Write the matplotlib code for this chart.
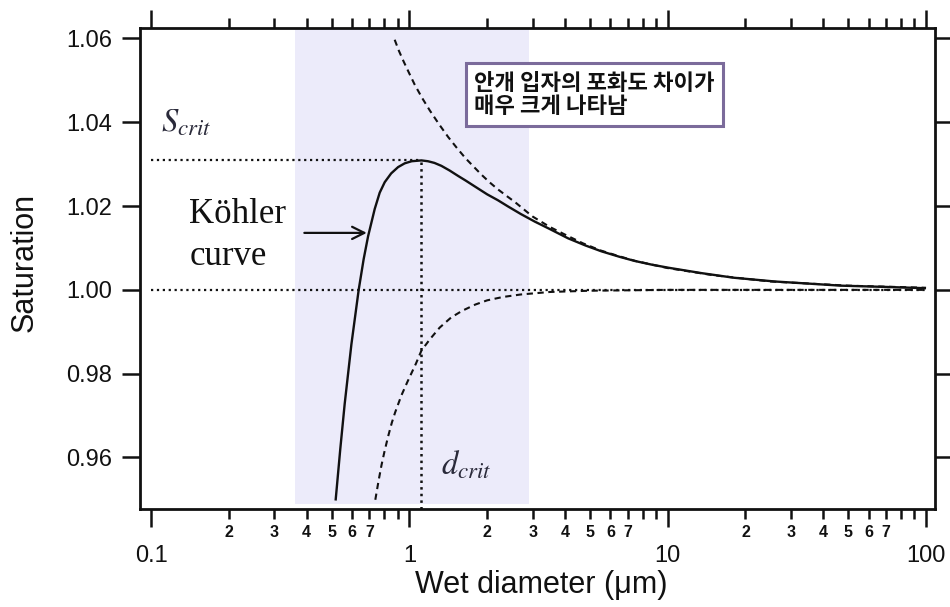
import matplotlib
matplotlib.use('Agg')
import matplotlib.pyplot as plt
from matplotlib.ticker import FixedLocator, FuncFormatter, NullLocator

plt.rcParams['font.family'] = ['Liberation Sans', 'DejaVu Sans']
plt.rcParams['mathtext.fontset'] = 'stix'

# ---- data ----
kohler_d = [0.5185, 0.540, 0.5617, 0.5963, 0.6363, 0.665, 0.692, 0.734, 0.7675, 0.8025,
            0.85, 0.904, 0.959, 1.02, 1.113, 1.18, 1.25, 1.33, 1.43, 1.543, 1.65, 1.79,
            2.0, 2.2, 2.41, 2.7, 3.056, 3.5, 4.115, 4.8, 5.538, 6.5, 7.455, 8.7, 10.03,
            13.5, 18.0, 25.96, 35.0, 47.0, 70.0, 98.9]
kohler_s = [0.9500, 0.9620, 0.9728, 0.9870, 1.0000, 1.0073, 1.0128, 1.0193, 1.0232, 1.0257,
            1.0278, 1.0293, 1.0302, 1.0307, 1.0309, 1.0307, 1.0303, 1.0296, 1.0285, 1.0272,
            1.0261, 1.0247, 1.0228, 1.0214, 1.0199, 1.0181, 1.0163, 1.0145, 1.0123, 1.0106,
            1.0092, 1.0079, 1.0069, 1.0060, 1.0053, 1.0040, 1.0029, 1.0020, 1.0015, 1.0010,
            1.0007, 1.0004]

kelvin_d = [0.877, 0.91, 0.95, 1.0, 1.048, 1.12, 1.2, 1.3, 1.412, 1.53, 1.65, 1.78, 1.90,
            2.05, 2.2, 2.38, 2.557, 2.8, 3.0, 3.5, 4.0, 4.7, 5.5, 6.5, 7.5, 10.0, 15.0,
            25.0, 50.0, 100.0]
kelvin_s = [1.0597, 1.0571, 1.0545, 1.0516, 1.0490, 1.0458, 1.0428, 1.0396, 1.0365, 1.0338,
            1.0314, 1.0293, 1.0275, 1.0256, 1.0240, 1.0224, 1.0210, 1.0190, 1.0175, 1.0150,
            1.0132, 1.0111, 1.0094, 1.0080, 1.0069, 1.0052, 1.0035, 1.0020, 1.0010, 1.0005]

solute_d = [0.738, 0.76, 0.78, 0.80, 0.827, 0.855, 0.88, 0.931, 0.98, 1.02, 1.06, 1.113,
            1.2, 1.31, 1.45, 1.6, 1.8, 2.0, 2.3, 2.7, 3.5, 5.0, 10.0, 100.0]
solute_s = [0.9499, 0.9545, 0.9582, 0.9613, 0.9650, 0.9683, 0.9707, 0.9748, 0.9779, 0.9802,
            0.9824, 0.9855, 0.9882, 0.9910, 0.9934, 0.9950, 0.9965, 0.9975, 0.9983, 0.9989,
            0.9995, 0.9998, 1.0000, 1.0000]

s_crit = 1.0309
d_crit = 1.113
shade_range = [0.36, 2.9]

x_major = [0.1, 1, 10, 100]
x_major_labels = ['0.1', '1', '10', '100']
x_minor_digits = [2, 3, 4, 5, 6, 7, 8, 9]
x_minor_labeled = [2, 3, 4, 5, 6, 7]
y_ticks = [0.96, 0.98, 1.00, 1.02, 1.04, 1.06]

note_text = '안개 입자의 포화도 차이가\n매우 크게 나타남'

# ---- figure ----
fig = plt.figure(figsize=(9.5, 6.07), dpi=100)
ax = fig.add_axes([140/950, 1-509/607, 795/950, 481/607])
ax.set_xscale('log')
ax.set_xlim(0.0906, 108.3)
ax.set_ylim(0.9477, 1.0625)

ax.axvspan(shade_range[0], shade_range[1], ymin=0.01, ymax=1, color='#ecebfa', lw=0, zorder=0)

lc = '#111111'
ax.plot([0.1, 100], [1.0, 1.0], ls=':', color=lc, lw=1.6, zorder=2)
ax.plot([0.1, d_crit], [s_crit, s_crit], ls=':', color=lc, lw=1.6, zorder=2)
ax.plot([d_crit, d_crit], [0.9477, s_crit], ls=':', color=lc, lw=1.8, zorder=2)
ax.plot(kelvin_d, kelvin_s, ls=(0, (3, 2.2)), color=lc, lw=1.5, zorder=3)
ax.plot(solute_d, solute_s, ls=(0, (3, 2.2)), color=lc, lw=1.5, zorder=3)
ax.plot(kohler_d, kohler_s, color=lc, lw=1.7, zorder=4, solid_joinstyle='round')

# ticks
ax.xaxis.set_major_locator(FixedLocator(x_major))
ax.xaxis.set_major_formatter(FuncFormatter(
    lambda v, p: x_major_labels[x_major.index(min(x_major, key=lambda m: abs(m - v)))]))
minor_pos = [d * 10.0**e for e in (-2, -1, 0, 1) for d in x_minor_digits]
ax.xaxis.set_minor_locator(FixedLocator(minor_pos))

def minor_fmt(v, p):
    for d in x_minor_labeled:
        for e in (-2, -1, 0, 1):
            if abs(v - d * 10.0**e) < 1e-9 * max(1, v):
                return str(d)
    return ''
ax.xaxis.set_minor_formatter(FuncFormatter(minor_fmt))

ax.yaxis.set_major_locator(FixedLocator(y_ticks))
ax.yaxis.set_major_formatter(FuncFormatter(lambda v, p: f'{v:.2f}'))
ax.yaxis.set_minor_locator(NullLocator())

ax.tick_params(axis='x', which='major', length=13, width=1.8, pad=13, labelsize=17,
               top=True, bottom=True, direction='out', colors='#111111')
ax.tick_params(axis='x', which='minor', length=7.2, width=1.8, pad=4.5, labelsize=11.5,
               top=True, bottom=True, direction='out', colors='#111111')
ax.tick_params(axis='y', which='major', length=13, width=1.8, pad=7, labelsize=17,
               left=True, right=True, direction='out', colors='#111111')
for lab in ax.get_xticklabels(minor=True):
    lab.set_fontweight('bold')

for sp in ax.spines.values():
    sp.set_linewidth(2.0)
    sp.set_color('#111111')

# annotations
ax.text(0.1096, 1.0377, r'$S_{crit}$', fontsize=23.5, color='#2a2a3a', ha='left', va='baseline')
ax.text(1.33, 0.95585, r'$d_{crit}$', fontsize=23.5, color='#2a2a3a', ha='left', va='baseline')
ax.text(0.1407, 1.0160, 'Köhler', fontsize=25, family='Liberation Serif', color='#111111',
        ha='left', va='baseline')
ax.text(0.1407, 1.00597, 'curve', fontsize=25, family='Liberation Serif', color='#111111',
        ha='left', va='baseline')
ax.annotate('', xy=(0.684, 1.0136), xytext=(0.392, 1.0136),
            arrowprops=dict(arrowstyle='->', lw=1.6, color='#111111', mutation_scale=22,
                            shrinkA=0, shrinkB=0))

ax.text(1.786, 1.0466, note_text, fontsize=16, fontweight='bold',
        family=['Noto Sans CJK KR', 'DejaVu Sans'], color='#111111', ha='left', va='center',
        linespacing=1.0, zorder=6,
        bbox=dict(boxstyle='square,pad=0.38', fc='white', ec='#7b6b9b', lw=2.2))

fig.text(25/950, 1-262/607, 'Saturation', rotation=90, fontsize=22, ha='center', va='center',
         color='#111111')
fig.text(541/950, 1-585/607, 'Wet diameter (μm)', fontsize=22, ha='center', va='center',
         color='#111111')

fig.savefig('out.png', dpi=100)
